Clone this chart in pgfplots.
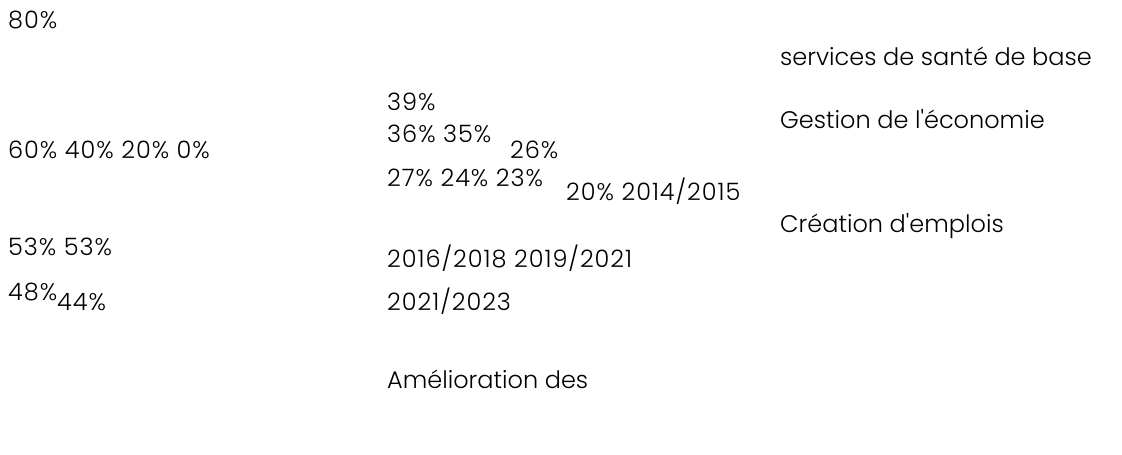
\documentclass[border=0pt]{standalone}
\usepackage{pgfplots}
\pgfplotsset{compat=1.18}
\usepackage{fontspec}
\newfontfamily\pf{Poppins Light}
\newfontfamily\pfn{Poppins Light}[LetterSpace=4]
\begin{document}
\begin{tikzpicture}
\begin{axis}[
  width=1122pt, height=455pt, scale only axis,
  xmin=0, xmax=1122, ymin=0, ymax=455, y dir=reverse,
  axis lines=none, clip=false,
  nodes={inner sep=0pt, anchor=base west, font=\pfn\fontsize{24}{28}\selectfont, text=black},
]
\path (axis cs:0,0) rectangle (axis cs:1122,455);
\node at (axis cs:8,28) {80\%};
\node at (axis cs:8,158) {60\% 40\% 20\% 0\%};
\node at (axis cs:8,255) {53\% 53\%};
\node at (axis cs:8,300) {48\%};
\node at (axis cs:57,310) {44\%};
\node at (axis cs:387,110) {39\%};
\node at (axis cs:387,142) {36\% 35\%};
\node at (axis cs:510,158) {26\%};
\node at (axis cs:387,186) {27\% 24\% 23\%};
\node at (axis cs:566,200) {20\% 2014/2015};
\node at (axis cs:387,267) {2016/2018 2019/2021};
\node at (axis cs:387,310) {2021/2023};
\node[font=\pf\fontsize{24}{28}\selectfont] at (axis cs:387,388) {Amélioration des};
\node[font=\pf\fontsize{24}{28}\selectfont] at (axis cs:780,65) {services de santé de base};
\node[font=\pf\fontsize{24}{28}\selectfont] at (axis cs:780,128) {Gestion de l'économie};
\node[font=\pf\fontsize{24}{28}\selectfont] at (axis cs:780,232) {Création d'emplois};
\end{axis}
\end{tikzpicture}
\end{document}
